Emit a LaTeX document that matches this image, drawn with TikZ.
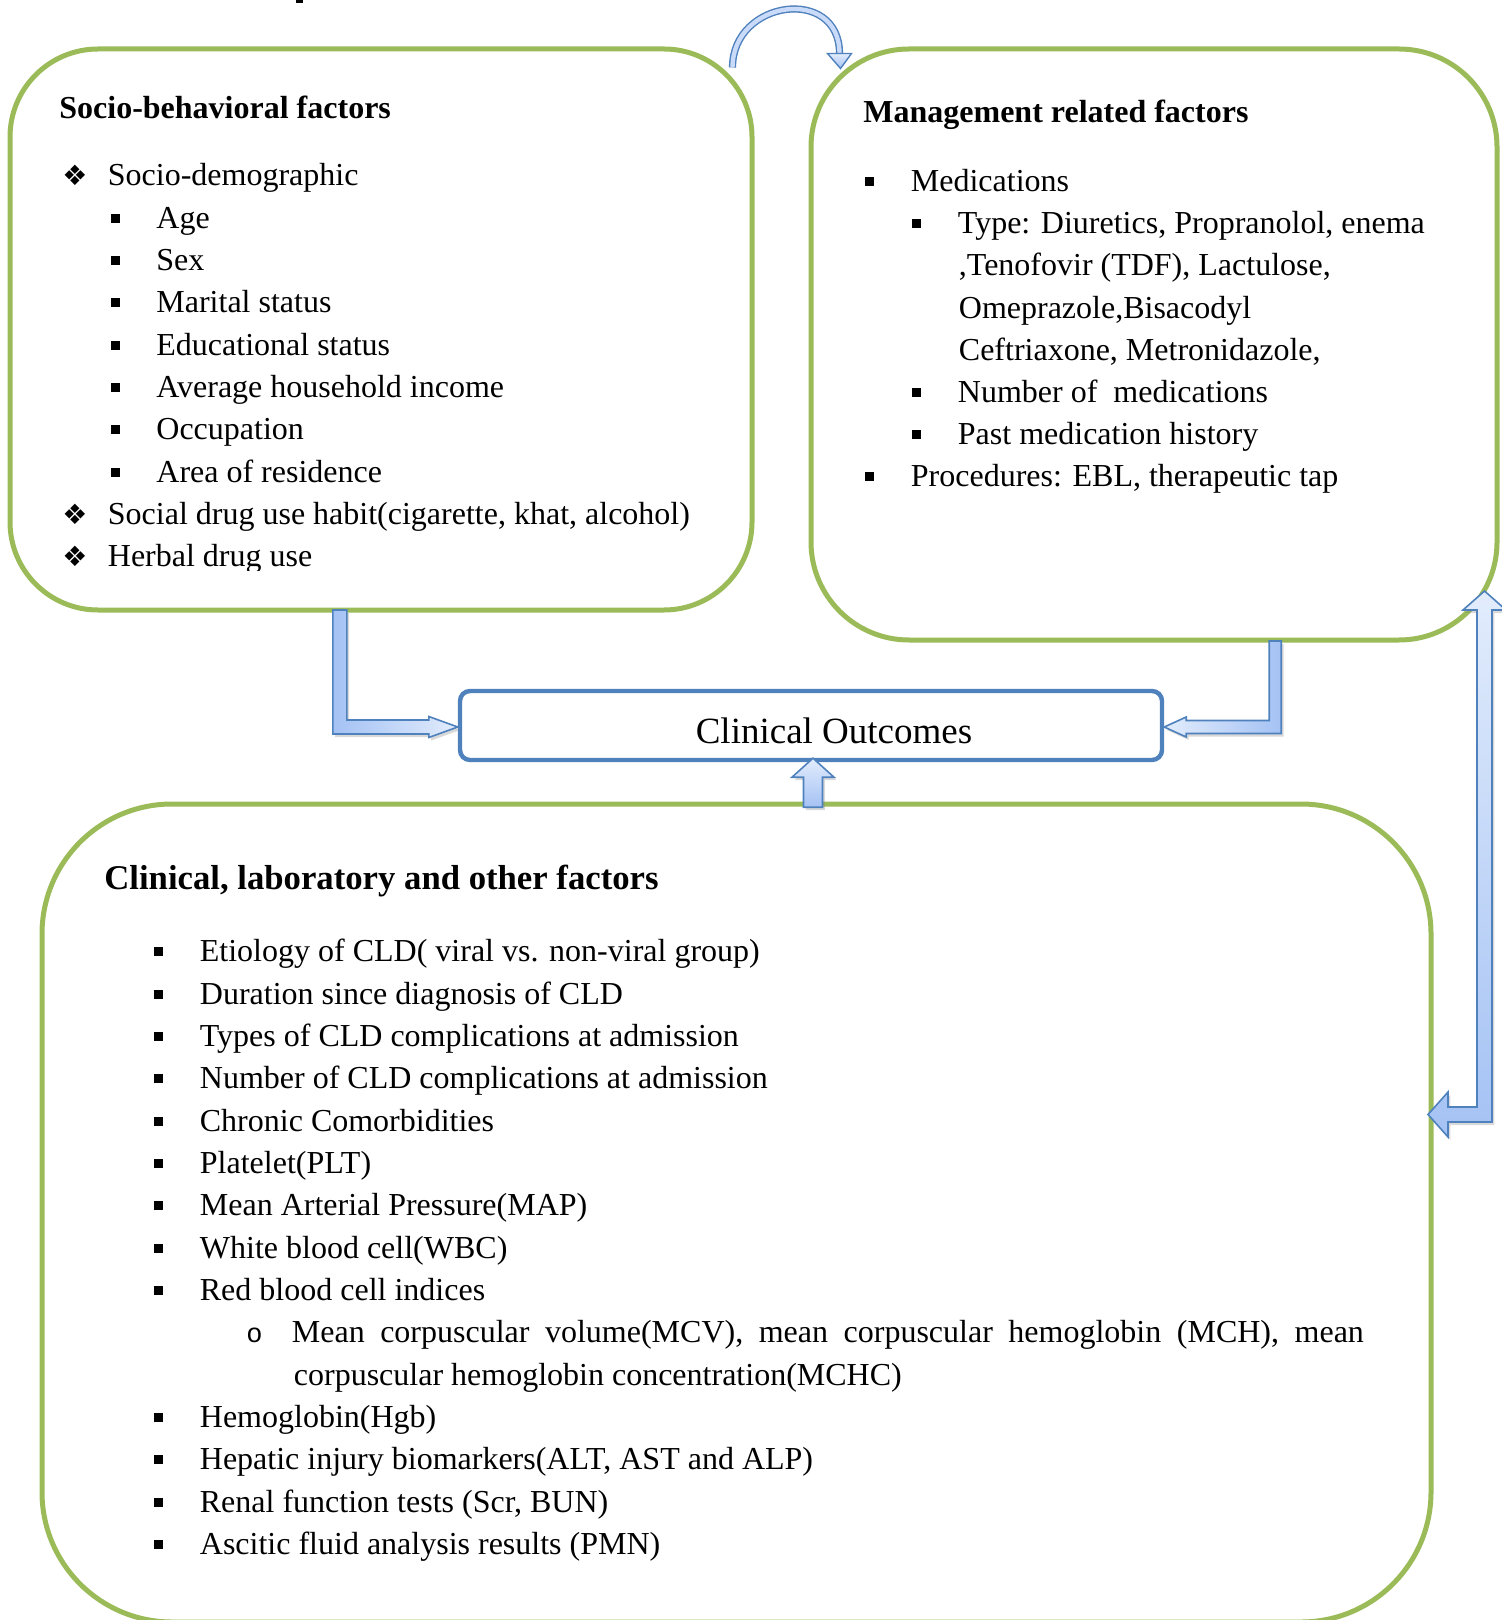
\documentclass[tikz,border=0pt]{standalone}
\usepackage{fontspec}
\setmainfont{Liberation Serif}
\newfontfamily\dvs{DejaVu Sans}
\newfontfamily\lmono{Liberation Mono}
\usetikzlibrary{calc,shadows}
\definecolor{grn}{HTML}{9BBB59}
\definecolor{blu}{HTML}{4F81BD}
\definecolor{fdark}{HTML}{A4C2F4}
\definecolor{flight}{HTML}{E2ECFC}
\newcommand\sqb{\rule[2.75pt]{4.4pt}{4.5pt}}
\newcommand\dia{{\dvs\fontsize{14}{14}\selectfont\char"2756}}
\newcommand\bl[1]{\makebox[22.75pt][l]{#1}}
\newcommand\circb{{\lmono\fontsize{13.5}{13.5}\selectfont o}}
\newcommand\lineat[4]{\node[txt] (#1) at (#2,#3) {#4};}
\begin{document}
\begin{tikzpicture}[x=0.5pt,y=-0.5pt,
  gbox/.style={draw=grn, line width=2.5pt, fill=white, inner sep=0pt},
  txt/.style={inner sep=0pt, anchor=base west, font=\fontsize{16}{19}\selectfont},
  ttl/.style={txt, font=\fontsize{16}{19}\selectfont\bfseries},
  barrow/.style={draw=blu, line width=0.8pt, line join=miter,
    drop shadow={shadow xshift=1.2pt, shadow yshift=-1.5pt, opacity=0.3}},
]
\useasboundingbox (0,0) rectangle (1502,1620);
\clip (0,0) rectangle (1502,1620);

% remnant mark at the top
\fill (296,0) rectangle (303,3);

% boxes
\node[gbox, rounded corners=44pt, minimum width=371pt, minimum height=280.5pt] (b1) at (381,329.5) {};
\node[gbox, rounded corners=49pt, minimum width=343pt, minimum height=295.5pt] (b2) at (1154,344.5) {};
\node[gbox, rounded corners=65pt, minimum width=694.5pt, minimum height=409pt] (b3) at (736.5,1213) {};
\node[draw=blu, line width=2.2pt, rounded corners=5pt, fill=white, inner sep=0pt,
      minimum width=351pt, minimum height=34.5pt] (co) at (811,725.5) {};
\node[inner sep=0pt, anchor=base, font=\fontsize{18.5}{20}\selectfont] (cot) at (834,743.7) {Clinical Outcomes};

% box 1 text
\begin{scope}
\clip (0,0) rectangle (760,570);
\node[ttl] (t1) at (59,118.6) {Socio-behavioral factors};
\lineat{a1}{62}{185.8}{\bl{\dia}Socio-demographic}
\lineat{a2}{110.5}{228.3}{\bl{\sqb}Age}
\lineat{a3}{110.5}{270.6}{\bl{\sqb}Sex}
\lineat{a4}{110.5}{312.9}{\bl{\sqb}Marital status}
\lineat{a5}{110.5}{355.2}{\bl{\sqb}Educational status}
\lineat{a6}{110.5}{397.5}{\bl{\sqb}Average household income}
\lineat{a7}{110.5}{439.8}{\bl{\sqb}Occupation}
\lineat{a8}{110.5}{482.1}{\bl{\sqb}Area of residence}
\lineat{a9}{62}{524.4}{\bl{\dia}Social drug use habit(cigarette, khat, alcohol)}
\lineat{a10}{62}{566.7}{\bl{\dia}Herbal drug use}
\end{scope}

% box 2 text
\node[ttl] (t2) at (863,122.9) {Management related factors};
\lineat{m1}{865}{191.5}{\bl{\sqb}Medications}
\lineat{m2}{912}{233.7}{\bl{\sqb}Type: Diuretics, Propranolol, enema}
\lineat{m3}{958.5}{275.9}{,Tenofovir (TDF), Lactulose,}
\lineat{m4}{958.5}{318.1}{Omeprazole,Bisacodyl}
\lineat{m5}{958.5}{360.3}{Ceftriaxone, Metronidazole,}
\lineat{m6}{912}{402.5}{\bl{\sqb}Number of\ \ medications}
\lineat{m7}{912}{444.7}{\bl{\sqb}Past medication history}
\lineat{m8}{865}{486.9}{\bl{\sqb}Procedures: EBL, therapeutic tap}

% box 3 text
\node[ttl, font=\fontsize{17.35}{20}\selectfont\bfseries] (t3) at (104,889) {Clinical, laboratory and other factors};
\lineat{c1}{154}{961.7}{\bl{\sqb}Etiology of CLD( viral vs. non-viral group)}
\lineat{c2}{154}{1004.05}{\bl{\sqb}Duration since diagnosis of CLD}
\lineat{c3}{154}{1046.4}{\bl{\sqb}Types of CLD complications at admission}
\lineat{c4}{154}{1088.75}{\bl{\sqb}Number of CLD complications at admission}
\lineat{c5}{154}{1131.1}{\bl{\sqb}Chronic Comorbidities}
\lineat{c6}{154}{1173.45}{\bl{\sqb}Platelet(PLT)}
\lineat{c7}{154}{1215.8}{\bl{\sqb}Mean Arterial Pressure(MAP)}
\lineat{c8}{154}{1258.15}{\bl{\sqb}White blood cell(WBC)}
\lineat{c9}{154}{1300.5}{\bl{\sqb}Red blood cell indices}
\lineat{c10}{246}{1342.85}{\bl{\circb}\makebox[536pt][s]{Mean corpuscular volume(MCV), mean corpuscular hemoglobin (MCH), mean}}
\lineat{c11}{293.5}{1385.2}{corpuscular hemoglobin concentration(MCHC)}
\lineat{c12}{154}{1427.55}{\bl{\sqb}Hemoglobin(Hgb)}
\lineat{c13}{154}{1469.9}{\bl{\sqb}Hepatic injury biomarkers(ALT, AST and ALP)}
\lineat{c14}{154}{1512.25}{\bl{\sqb}Renal function tests (Scr, BUN)}
\lineat{c15}{154}{1554.6}{\bl{\sqb}Ascitic fluid analysis results (PMN)}

% curved arrow from box 1 to box 2
\coordinate (cs) at ($(b1.north east)+(-22,21)$);
\coordinate (ce) at ($(b2.north west)+(31,7)$);
\draw[black, opacity=0.12, line width=3.4pt, xshift=1.2pt, yshift=-1.4pt]
  (cs) .. controls +(0,-68) and +(0,-68) .. (ce);
\draw[draw=blu, line width=0.7pt, double=flight!60!fdark, double distance=2.2pt]
  (cs) .. controls +(0,-68) and +(0,-68) .. (ce);
\path[draw=blu, line width=0.7pt, line join=miter, top color=flight, bottom color=fdark]
  ($(ce)+(-12,0)$) -- ($(ce)+(12,0)$) -- ($(ce)+(1,15)$) -- cycle;

% L arrow from box 1 to Clinical Outcomes
\coordinate (tL) at ($(co.west)+(0,1.5)$);
\begin{scope}[shift={(tL)}]
\path[barrow, left color=fdark, right color=flight]
  (0,0) -- (-29,-10.5) -- (-29,-7) -- (-111,-7) -- (-111,-117) -- (-125,-117)
  -- (-125,7) -- (-29,7) -- (-29,10.5) -- cycle;
\end{scope}

% L arrow from box 2 to Clinical Outcomes
\coordinate (tR) at ($(co.east)+(0,1.5)$);
\begin{scope}[shift={(tR)}]
\path[barrow, left color=flight, right color=fdark]
  (0,0) -- (22,-10) -- (22,-6.5) -- (105,-6.5) -- (105,-86) -- (117,-86)
  -- (117,6.5) -- (22,6.5) -- (22,10) -- cycle;
\end{scope}

% up arrow from box 3 to Clinical Outcomes
\coordinate (tU) at ($(co.south)+(2,-4)$);
\begin{scope}[shift={(tU)}]
\path[barrow, top color=flight, bottom color=fdark]
  (0,0) -- (21,19) -- (9.5,19) -- (9.5,49) -- (-9.5,49) -- (-9.5,19) -- (-21,19) -- cycle;
\end{scope}

% bent double arrow between box 2 and box 3
\coordinate (dT) at (1484.5,591);
\coordinate (dL) at (1428,1114.5);
\path[barrow, top color=flight, bottom color=fdark]
  (dT) -- (1506,610) -- (1492,610) -- (1492,1122) -- (1448,1122) -- (1448,1137)
  -- (dL) -- (1448,1092) -- (1448,1107) -- (1477,1107) -- (1477,610) -- (1463,610) -- cycle;
\end{tikzpicture}
\end{document}
